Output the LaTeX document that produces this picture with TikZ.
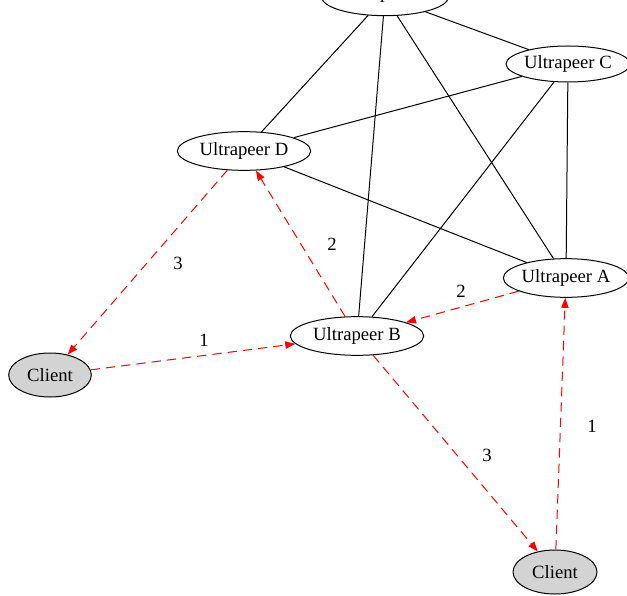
\documentclass[tikz,border=0pt]{standalone}
\usepackage{fontspec}
\setmainfont{Liberation Serif}
\usetikzlibrary{shapes.geometric,arrows.meta}
\definecolor{clientgray}{RGB}{211,211,211}
\begin{document}
\begin{tikzpicture}[x=0.75pt,y=-0.75pt,
  peer/.style={draw,ellipse,line width=0.75pt,inner sep=0pt,font=\fontsize{14}{16}\selectfont},
  client/.style={peer,fill=clientgray},
  link/.style={line width=0.75pt},
  msg/.style={red,line width=0.75pt,dash pattern=on 7pt off 4.5pt,-{Triangle[length=7.5pt,width=5.5pt]}},
  lbl/.style={font=\fontsize{14}{16}\selectfont,inner sep=0pt}]
\useasboundingbox (0,0) rectangle (627,595);
\begin{scope}
\clip (0,0) rectangle (627,595);
\node[peer,minimum width=95pt,minimum height=28pt] (E) at (385,-3) {\smash{\raisebox{-1pt}{Ultrapeer E}}};
\end{scope}
\node[peer,minimum width=90pt,minimum height=27pt] (C) at (568,64) {Ultrapeer C};
\node[peer,minimum width=100pt,minimum height=29pt] (D) at (244,151) {Ultrapeer D};
\node[peer,minimum width=93pt,minimum height=29pt] (A) at (566,278) {Ultrapeer A};
\node[peer,minimum width=100pt,minimum height=29pt] (B) at (357,336) {Ultrapeer B};
\node[client,minimum width=62pt,minimum height=33pt] (CL) at (50,375) {Client};
\node[client,minimum width=63pt,minimum height=33pt] (CB) at (555,572) {Client};

\draw[link] (E) -- (D);
\draw[link] (E) -- (B);
\draw[link] (E) -- (A);
\draw[link] (E) -- (C);
\draw[link] (C) -- (D);
\draw[link] (C) -- (B);
\draw[link] (C) -- (A);
\draw[link] (D) -- (A);

\draw[msg] (B) -- (D);
\draw[msg] (A) -- (B);
\draw[msg] (D) -- (CL);
\draw[msg] (CL) -- (B);
\draw[msg] (B) -- (CB);
\draw[msg] (CB) -- (A);

\node[lbl] (l1) at (332,244) {2};
\node[lbl] (l2) at (461,291) {2};
\node[lbl] (l3) at (178,263) {3};
\node[lbl] (l4) at (204,340) {1};
\node[lbl] (l5) at (487,455) {3};
\node[lbl] (l6) at (592,426) {1};
\end{tikzpicture}
\end{document}
